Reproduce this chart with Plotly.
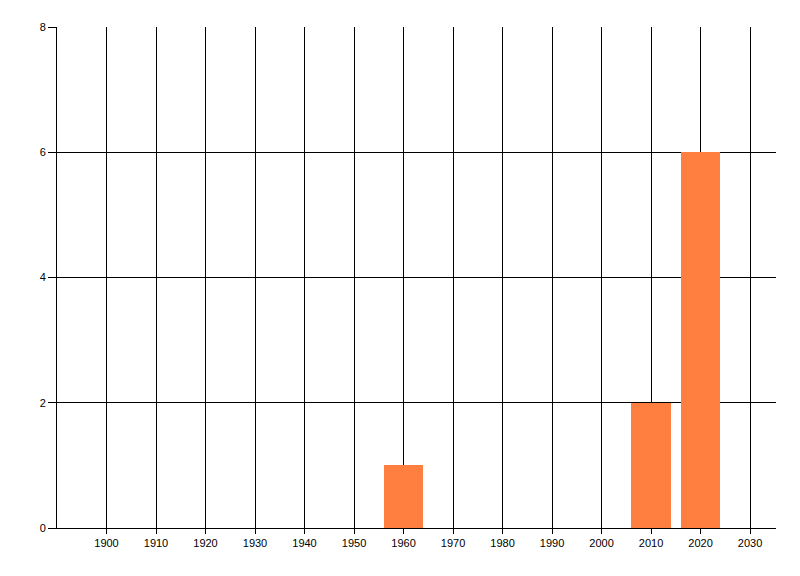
import plotly.graph_objects as go

years = [1960, 2010, 2020]
counts = [1, 2, 6]
x_ticks = list(range(1900, 2031, 10))
y_ticks = [0, 2, 4, 6, 8]

fig = go.Figure(go.Bar(x=years, y=counts, width=8, marker=dict(color="#FF7F40", line=dict(width=0))))

fig.update_layout(
    width=784, height=560,
    margin=dict(l=49, r=16, t=19, b=40),
    plot_bgcolor="white", paper_bgcolor="white",
    font=dict(family="Liberation Sans", size=11, color="black"),
    showlegend=False,
    bargap=0,
)
fig.update_xaxes(
    range=[1890, 2035.25], tickvals=x_ticks, ticktext=[str(v) for v in x_ticks],
    showgrid=True, gridcolor="black", gridwidth=1,
    showline=True, linecolor="black", linewidth=1,
    ticks="outside", ticklen=5, tickcolor="black", zeroline=False,
)
fig.update_yaxes(
    range=[0, 8], tickvals=y_ticks,
    showgrid=True, gridcolor="black", gridwidth=1,
    showline=True, linecolor="black", linewidth=1,
    ticks="outside", ticklen=8, tickcolor="black", zeroline=False,
)
fig.write_html("out.html")
